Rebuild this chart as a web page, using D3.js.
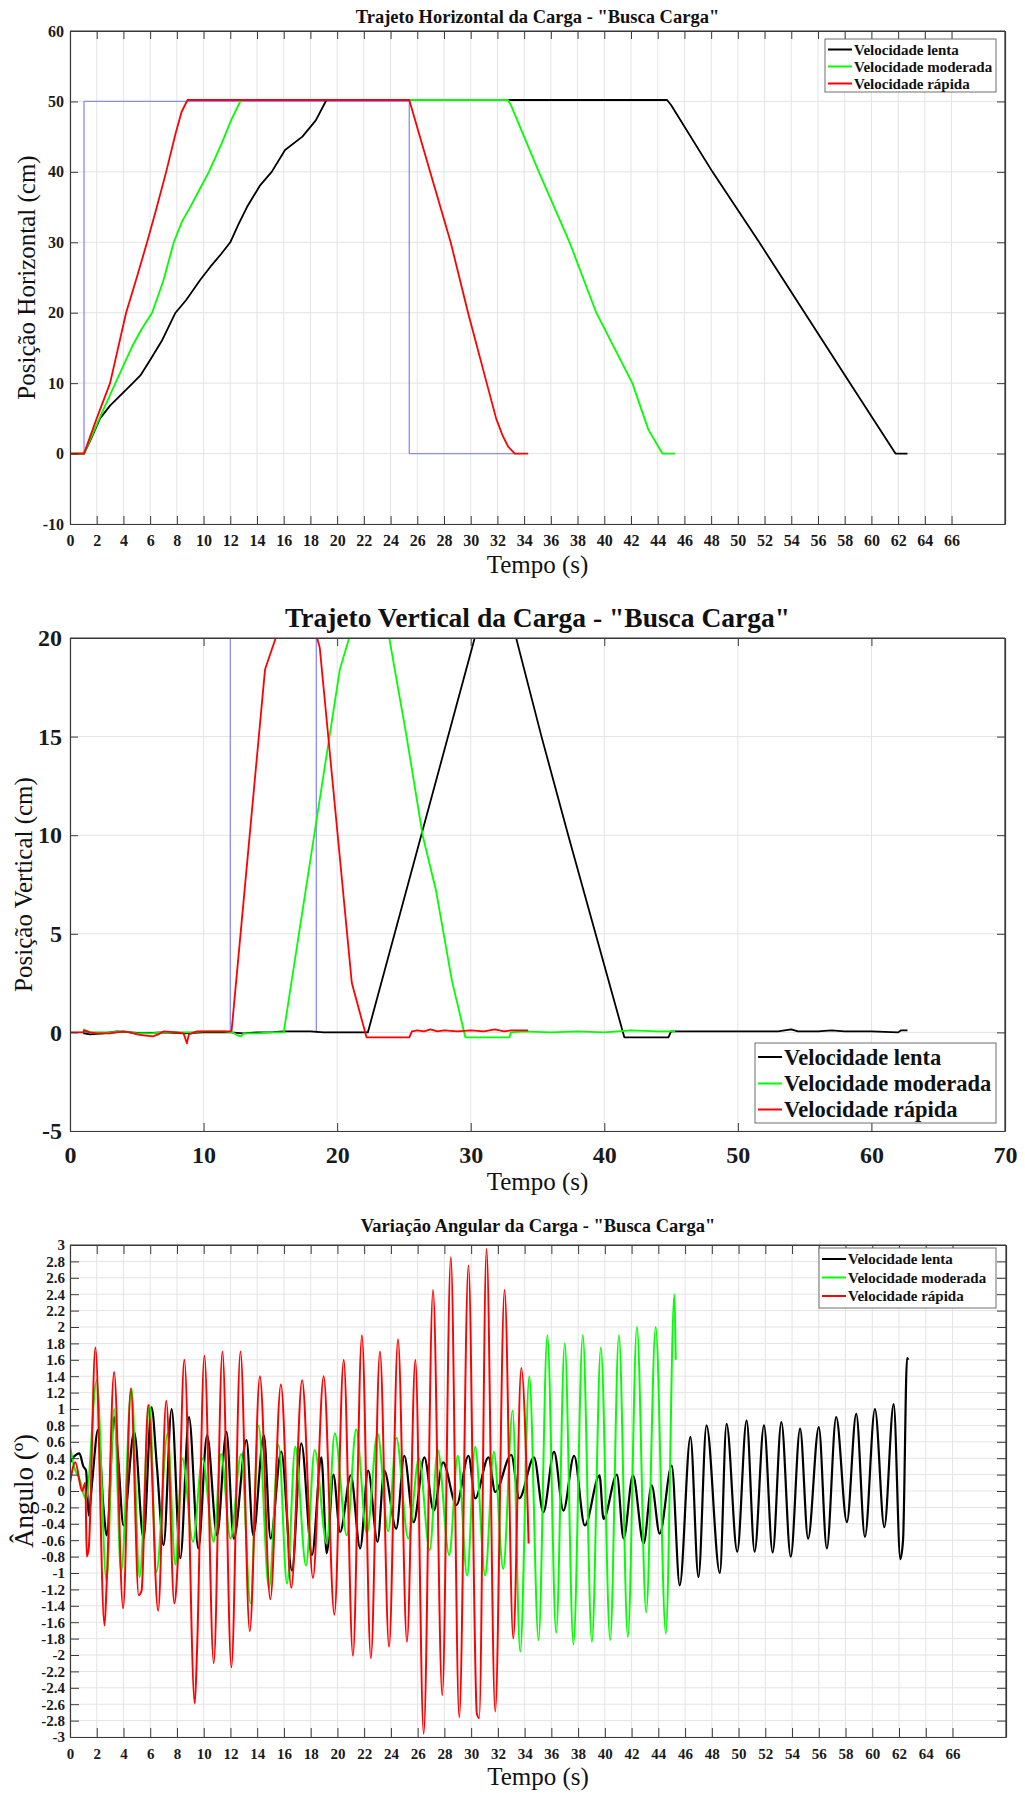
<!DOCTYPE html>
<html><head><meta charset="utf-8">
<script src="https://cdn.jsdelivr.net/npm/d3@7"></script>
<style>
body{margin:0;background:#fff}
svg{display:block}
text{font-family:"Liberation Serif","Times New Roman",serif;fill:#111}
</style>
</head><body>
<svg id="chart" width="1025" height="1793"></svg>
<script>
// ---------- DATA ----------
const seriesNames = ["Velocidade lenta", "Velocidade moderada", "Velocidade rápida"];

// Panel 1 – horizontal position (cm) vs time (s)
const horizTicksX = d3.range(0, 67, 2);
const horizTicksY = [-10, 0, 10, 20, 30, 40, 50, 60];
const horizRef = [[0,0],[1.05,0],[1.05,50],[25.4,50],[25.4,0],[33.6,0]];
const horizLenta = [[0,0],[1.05,0],[1.6,2.2],[2.25,5],[3.0,6.8],[4.0,8.7],[4.7,10],[5.27,11.1],[6.0,13.3],[6.9,16.1],[7.9,20],[8.7,21.8],[9.73,24.6],[10.5,26.5],[11.3,28.3],[12.0,30],[12.6,32.5],[13.25,35],[14.2,38],[15.1,40],[16.1,43.1],[17.4,45],[18.4,47.3],[19.2,50.2],[44.7,50.2],[45.0,49.5],[48.1,40],[51.6,30],[55.0,20],[58.4,10],[61.8,0],[62.7,0]];
const horizModerada = [[0,0],[1.05,0],[2.2,5],[3.4,10],[4.65,15.2],[5.4,17.8],[6.15,20],[7.0,24.6],[7.77,30],[8.4,33],[9.0,35],[9.7,37.5],[10.4,40],[11.35,44],[12.1,47.5],[12.8,50.2],[32.8,50.2],[33.0,49.5],[35.1,40],[37.4,30],[39.4,20],[42.1,10],[43.3,3.4],[44.35,0],[45.3,0]];
const horizRapida = [[0,0],[1.05,0],[2.0,5],[3.0,10],[4.2,20],[5.0,25],[5.77,30],[6.5,35],[7.2,40],[7.9,45.4],[8.35,48.5],[8.8,50.2],[25.4,50.2],[26.96,40],[28.5,30],[29.8,20],[31.2,10],[31.9,5],[32.4,2.5],[32.8,1],[33.3,0],[34.3,0]];

// Panel 2 – vertical position (cm) vs time (s)
const vertTicksX = [0, 10, 20, 30, 40, 50, 60, 70];
const vertTicksY = [-5, 0, 5, 10, 15, 20];
const vertRef = [[0,0],[12.0,0],[12.0,20],[18.44,20],[18.44,0],[22.3,0]];
const vertLenta = [[1.0,0],[1.05,-0.05],[1.5,-0.1],[2.5,-0.05],[3.5,0.05],[4.5,0],[5.5,-0.05],[7,0],[8.5,-0.05],[10,0],[12,0],[13,-0.05],[14,0],[15,0],[16,0.05],[17,0.05],[18,0.05],[19,0],[20,0],[22.3,0],[30.3,20],[33.4,20],[35.3,15],[37.3,10],[41.5,-0.25],[44.8,-0.25],[45.0,0.05],[47,0.05],[49,0.05],[51,0.05],[53,0.05],[54,0.15],[54.5,0.05],[56,0.05],[57,0.1],[58,0.05],[60,0.05],[62,0],[62.2,0.1],[62.7,0.1]];
const vertModerada = [[1.0,0],[1.05,0.15],[1.5,0],[3,0],[4,0.05],[5,-0.05],[6,-0.05],[7,0],[9,0],[10,0.05],[11.5,0.05],[12.2,0],[12.5,-0.15],[12.8,-0.2],[13,-0.05],[14,-0.05],[15,0],[16,0],[20.2,18.4],[20.9,20],[23.9,20],[25.2,15],[26.4,10],[27.4,7.2],[28.6,2.6],[29.6,-0.25],[32.9,-0.25],[33.0,0],[34,0.05],[36,0],[38,0.05],[40,0],[42,0.1],[44,0.05],[45.3,0.05]];
const vertRapida = [[0,0],[1.0,0],[1.05,0.1],[1.5,0],[2,-0.05],[3,-0.05],[3.5,0],[4,0.05],[4.5,0],[5,-0.1],[5.5,-0.15],[6.2,-0.2],[6.6,-0.1],[7,0.05],[8,0],[8.5,-0.05],[8.6,-0.25],[8.75,-0.55],[8.9,-0.1],[9.5,0.05],[12,0.05],[12.1,0.1],[14.6,18.4],[15.4,20],[18.5,20],[18.7,19.5],[21.1,2.5],[22.2,-0.25],[25.4,-0.25],[25.6,0.05],[26,0.1],[26.5,0.05],[27,0.15],[27.5,0.05],[28,0.1],[29,0.05],[30,0.1],[31,0.05],[31.8,0.15],[32.5,0.05],[33,0.1],[34.3,0.1]];

// Panel 3 – angle (deg) vs time (s)
const angTicksX = d3.range(0, 67, 2);
const angTicksY = [-3,-2.8,-2.6,-2.4,-2.2,-2,-1.8,-1.6,-1.4,-1.2,-1,-0.8,-0.6,-0.4,-0.2,0,0.2,0.4,0.6,0.8,1,1.2,1.4,1.6,1.8,2,2.2,2.4,2.6,2.8,3];
const angLenta = [[0,0.35],[0.3,0.42],[0.7,0.46],[1.0,0.3],[1.2,0.25],[1.4,-0.3],[1.65,0.1],[2.1,0.75],[2.5,-0.2],[2.75,-0.54],[3.3,0.9],[3.6,0.4],[4.0,-0.42],[4.8,0.72],[5.5,-0.58],[6.1,1.02],[6.5,0.3],[7.0,-0.66],[7.6,1.0],[8.25,-0.82],[8.9,0.9],[9.6,-0.7],[10.25,0.68],[11.0,-0.54],[11.7,0.72],[12.25,-0.58],[13.2,0.62],[13.7,-0.54],[14.5,0.68],[15.0,-0.58],[15.8,0.48],[16.6,-0.97],[17.3,0.58],[18.1,-0.78],[18.8,0.41],[19.2,-0.76],[19.7,0.2],[20.2,-0.5],[21.0,0.19],[21.7,-0.7],[22.3,0.25],[23.0,-0.62],[23.5,0.25],[24.4,-0.46],[25.0,0.43],[25.7,-0.38],[26.5,0.41],[27.2,-0.24],[27.9,0.35],[28.9,-0.17],[29.8,0.43],[30.3,-0.09],[31.3,0.41],[31.8,-0.01],[33.0,0.44],[33.6,-0.09],[34.7,0.41],[35.4,-0.26],[36.2,0.48],[36.9,-0.24],[37.7,0.43],[38.5,-0.42],[39.6,0.19],[39.9,-0.34],[40.9,0.2],[41.4,-0.58],[42.1,0.19],[42.9,-0.64],[43.5,0.07],[44.1,-0.52],[45.0,0.31],[45.6,-1.15],[46.4,0.66],[47.0,-1.05],[47.6,0.8],[48.6,-1.0],[49.1,0.82],[49.9,-0.74],[50.6,0.86],[51.2,-0.74],[51.9,0.8],[52.55,-0.75],[53.2,0.84],[53.9,-0.8],[54.6,0.76],[55.2,-0.58],[56.0,0.78],[56.6,-0.7],[57.3,0.9],[58.1,-0.38],[58.8,0.94],[59.45,-0.56],[60.2,1.0],[60.9,-0.44],[61.6,1.06],[62.1,-0.83],[62.3,-0.6],[62.6,1.62],[62.7,1.6]];
const angModerada = [[0,0.55],[0.3,0.3],[0.7,0.15],[1.2,-0.1],[2.0,1.35],[2.73,-1.1],[3.3,1.0],[3.82,-0.99],[4.6,1.25],[5.2,-1.05],[5.95,1.05],[6.46,-0.99],[7.3,0.7],[7.88,-0.9],[8.4,0.4],[9.2,-0.62],[9.9,0.4],[10.75,-0.62],[11.3,0.45],[12.0,-0.58],[12.8,0.45],[13.5,-1.37],[14.1,0.8],[14.88,-1.19],[15.6,0.56],[16.23,-1.13],[16.85,0.54],[17.65,-0.91],[18.3,0.5],[19.2,-0.64],[19.8,0.7],[20.7,-0.54],[21.4,0.75],[22.2,-0.52],[23.0,0.7],[23.8,-0.49],[24.4,0.65],[25.3,-0.58],[26.1,0.4],[26.9,-0.72],[27.5,0.5],[28.36,-0.78],[29.0,0.43],[29.7,-1.03],[30.3,0.54],[31.05,-1.03],[31.7,0.48],[32.4,-0.95],[33.1,0.98],[33.67,-1.96],[34.35,1.4],[35.04,-1.82],[35.7,1.9],[36.36,-1.73],[37.0,1.8],[37.65,-1.87],[38.35,1.9],[39.03,-1.84],[39.7,1.75],[40.4,-1.82],[41.05,1.9],[41.72,-1.78],[42.4,2.0],[43.09,-1.48],[43.8,2.0],[44.56,-1.74],[45.2,2.4],[45.3,1.6]];
const angRapida = [[0,0.1],[0.4,0.35],[0.9,0.0],[1.15,0.1],[1.25,-0.8],[1.4,-0.7],[1.9,1.75],[2.58,-1.64],[2.75,-1.1],[3.3,1.45],[3.97,-1.43],[4.55,1.25],[5.14,-1.27],[5.35,-1.22],[5.85,1.05],[6.59,-1.46],[7.2,1.1],[7.8,-1.37],[8.05,-0.9],[8.55,1.6],[9.33,-2.59],[9.5,-1.95],[10.05,1.65],[10.75,-2.1],[11.4,1.7],[12.07,-2.15],[12.75,1.7],[13.44,-1.71],[14.2,1.4],[14.98,-1.32],[15.77,1.3],[16.55,-1.18],[17.36,1.35],[18.17,-1.06],[18.97,1.4],[19.77,-1.51],[20.47,1.6],[21.16,-2.01],[21.83,1.9],[22.5,-2.04],[23.18,1.7],[23.86,-1.9],[24.53,1.85],[25.2,-1.84],[25.83,1.6],[26.45,-2.96],[27.15,2.45],[27.84,-2.49],[28.48,2.85],[29.11,-2.76],[29.8,2.75],[30.43,-2.72],[30.6,-2.77],[31.15,2.95],[31.8,-2.69],[32.5,2.45],[33.15,-1.8],[33.75,1.5],[34.3,-0.64]];

// ---------- DRAWING ----------
const svg = d3.select("#chart");
const colors = {ref:"#8a8aff", lenta:"#000000", moderada:"#00ff00", rapida:"#ff0000"};

function drawPanel(p) {
  const x = d3.scaleLinear().domain(p.xDomain).range([p.left, p.right]);
  const y = d3.scaleLinear().domain(p.yDomain).range([p.bottom, p.top]);
  const g = svg.append("g");
  g.append("g").selectAll("line").data(p.xTicks).join("line")
    .attr("x1", d => x(d)).attr("x2", d => x(d)).attr("y1", p.top).attr("y2", p.bottom)
    .attr("stroke", "#e4e4e4").attr("stroke-width", 1);
  g.append("g").selectAll("line").data(p.yTicks).join("line")
    .attr("y1", d => y(d)).attr("y2", d => y(d)).attr("x1", p.left).attr("x2", p.right)
    .attr("stroke", "#e4e4e4").attr("stroke-width", 1);
  const cid = "clip" + p.id;
  svg.append("clipPath").attr("id", cid).append("rect")
    .attr("x", p.left).attr("y", p.top).attr("width", p.right - p.left).attr("height", p.bottom - p.top);
  const line = d3.line().x(d => x(d[0])).y(d => y(d[1])).curve(p.curve);
  p.series.forEach(s => {
    g.append("path").attr("d", line(s.data)).attr("fill", "none")
      .attr("stroke", s.color).attr("stroke-width", s.width)
      .attr("stroke-linejoin", "round").attr("clip-path", `url(#${cid})`);
  });
  const fmt = d => String(d);
  const styleAxis = (ag, fs) => {
    ag.attr("font-family", null).attr("font-size", null).attr("color", "#3a3a3a");
    ag.selectAll("text").style("font-size", fs + "px").style("font-weight", "bold").style("fill", "#1a1a1a");
    ag.select(".domain").attr("stroke-width", 1.2);
  };
  const ab = g.append("g").attr("transform", `translate(0,${p.bottom})`)
    .call(d3.axisBottom(x).tickValues(p.xTicks).tickFormat(fmt).tickSizeInner(-p.tick).tickSizeOuter(0).tickPadding(p.xPad));
  styleAxis(ab, p.tickFont);
  const at = g.append("g").attr("transform", `translate(0,${p.top})`)
    .call(d3.axisTop(x).tickValues(p.xTicks).tickFormat("").tickSizeInner(-p.tick).tickSizeOuter(0));
  styleAxis(at, p.tickFont);
  const al = g.append("g").attr("transform", `translate(${p.left},0)`)
    .call(d3.axisLeft(y).tickValues(p.yTicks).tickFormat(fmt).tickSizeInner(-p.tick).tickSizeOuter(0).tickPadding(p.yPad));
  styleAxis(al, p.tickFont);
  const ar = g.append("g").attr("transform", `translate(${p.right},0)`)
    .call(d3.axisRight(y).tickValues(p.yTicks).tickFormat("").tickSizeInner(-p.tick).tickSizeOuter(0));
  styleAxis(ar, p.tickFont);
  g.append("line").attr("x1", p.left).attr("x2", p.right).attr("y1", p.top).attr("y2", p.top).attr("stroke", "#3a3a3a").attr("stroke-width", 1.2);
  g.append("line").attr("x1", p.right).attr("x2", p.right).attr("y1", p.top).attr("y2", p.bottom).attr("stroke", "#3a3a3a").attr("stroke-width", 1.2);
  g.append("text").attr("x", (p.left + p.right) / 2).attr("y", p.titleY).attr("text-anchor", "middle")
    .style("font-size", p.titleFont + "px").style("font-weight", "bold").text(p.title);
  g.append("text").attr("x", (p.left + p.right) / 2).attr("y", p.xLabelY).attr("text-anchor", "middle")
    .style("font-size", p.xLabelFont + "px").text("Tempo (s)");
  g.append("text").attr("transform", `translate(${p.yLabelX},${(p.top + p.bottom) / 2}) rotate(-90)`)
    .attr("text-anchor", "middle").style("font-size", p.yLabelFont + "px").text(p.yLabel);
  const L = p.legend;
  const lg = g.append("g");
  lg.append("rect").attr("x", L.x).attr("y", L.y).attr("width", L.w).attr("height", L.h)
    .attr("fill", "#fff").attr("stroke", "#6e6e6e").attr("stroke-width", 1);
  const legColors = [colors.lenta, colors.moderada, colors.rapida];
  seriesNames.forEach((name, i) => {
    const cy = L.rows[i];
    lg.append("line").attr("x1", L.lx1).attr("x2", L.lx2).attr("y1", cy).attr("y2", cy)
      .attr("stroke", legColors[i]).attr("stroke-width", 2);
    lg.append("text").attr("x", L.tx).attr("y", cy).attr("dy", "0.35em")
      .style("font-size", L.font + "px").style("font-weight", "bold").text(name);
  });
}

drawPanel({
  id: 1, left: 70, right: 1005, top: 31, bottom: 524,
  xDomain: [0, 70], yDomain: [-10, 60], xTicks: horizTicksX, yTicks: horizTicksY,
  tick: 8, tickFont: 16, xPad: 11, yPad: 6, curve: d3.curveLinear,
  title: 'Trajeto Horizontal da Carga - "Busca Carga"', titleY: 23, titleFont: 18.5,
  xLabelY: 573, xLabelFont: 25, yLabel: "Posição Horizontal (cm)", yLabelX: 35, yLabelFont: 25,
  series: [
    {data: horizRef, color: colors.ref, width: 1.3},
    {data: horizLenta, color: colors.lenta, width: 1.8},
    {data: horizModerada, color: colors.moderada, width: 1.8},
    {data: horizRapida, color: colors.rapida, width: 1.8}
  ],
  legend: {x: 825, y: 39, w: 171, h: 53, rows: [49.5, 66.5, 83.5], lx1: 828, lx2: 852, tx: 854, font: 15}
});

drawPanel({
  id: 2, left: 70, right: 1005, top: 638, bottom: 1131,
  xDomain: [0, 70], yDomain: [-5, 20], xTicks: vertTicksX, yTicks: vertTicksY,
  tick: 8, tickFont: 24, xPad: 15, yPad: 8, curve: d3.curveLinear,
  title: 'Trajeto Vertical da Carga - "Busca Carga"', titleY: 627, titleFont: 27.5,
  xLabelY: 1190, xLabelFont: 25, yLabel: "Posição Vertical (cm)", yLabelX: 32, yLabelFont: 25,
  series: [
    {data: vertRef, color: colors.ref, width: 1.3},
    {data: vertLenta, color: colors.lenta, width: 1.8},
    {data: vertModerada, color: colors.moderada, width: 1.8},
    {data: vertRapida, color: colors.rapida, width: 1.8}
  ],
  legend: {x: 755, y: 1043, w: 241, h: 80, rows: [1057, 1083.5, 1109.5], lx1: 758, lx2: 782, tx: 784, font: 22.5}
});

drawPanel({
  id: 3, left: 70, right: 1006, top: 1245, bottom: 1737,
  xDomain: [0, 70], yDomain: [-3, 3], xTicks: angTicksX, yTicks: angTicksY,
  tick: 9, tickFont: 15, xPad: 11, yPad: 5, curve: d3.curveMonotoneX,
  title: 'Variação Angular da Carga - "Busca Carga"', titleY: 1232, titleFont: 18.5,
  xLabelY: 1785, xLabelFont: 25, yLabel: "Ângulo (º)", yLabelX: 33, yLabelFont: 27,
  series: [
    {data: angLenta, color: colors.lenta, width: 2.2},
    {data: angModerada, color: colors.moderada, width: 2},
    {data: angRapida, color: colors.rapida, width: 2}
  ],
  legend: {x: 819, y: 1248, w: 177, h: 60, rows: [1259, 1277.5, 1296], lx1: 822, lx2: 846, tx: 848, font: 15}
});
</script>
</body></html>
